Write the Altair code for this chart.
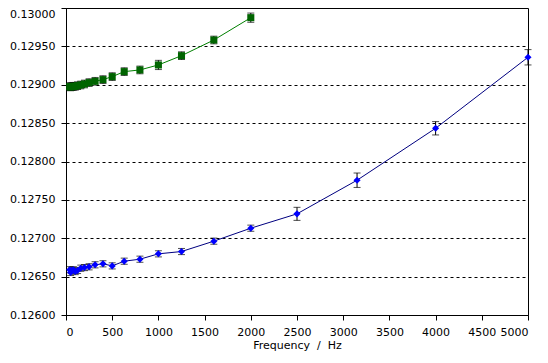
import altair as alt
import pandas as pd

# Frequencies (Hz)
green_freq = [40, 50, 63, 80, 100, 125, 160, 200, 250, 315, 400, 500, 630, 800, 1000, 1250, 1600, 2000]
green_val = [0.128975, 0.128972, 0.128975, 0.128980, 0.128980, 0.128988, 0.128997, 0.129010, 0.129028,
             0.129045, 0.129067, 0.129106, 0.129171, 0.129193, 0.129258, 0.129379, 0.129583, 0.129874]
green_err = [0.00005, 0.00005, 0.00005, 0.00005, 0.00005, 0.00005, 0.00005, 0.00005, 0.00005,
             0.00005, 0.00005, 0.00005, 0.00005, 0.00005, 0.00006, 0.00005, 0.00005, 0.00006]

blue_freq = [40, 50, 63, 80, 100, 125, 160, 200, 250, 315, 400, 500, 630, 800, 1000, 1250, 1600, 2000,
             2500, 3150, 4000, 5000]
blue_val = [0.126590, 0.126554, 0.126580, 0.126589, 0.126566, 0.126580, 0.126610, 0.126618, 0.126628,
            0.126654, 0.126667, 0.126640, 0.126701, 0.126727, 0.126797, 0.126827, 0.126962, 0.127131,
            0.127318, 0.127756, 0.128433, 0.129358]
blue_err = [0.00004, 0.00004, 0.00004, 0.00004, 0.00004, 0.00004, 0.00004, 0.00004, 0.00004,
            0.00004, 0.00004, 0.00004, 0.00004, 0.00004, 0.00004, 0.00004, 0.00004, 0.00004,
            0.000085, 0.000094, 0.000087, 0.00010]

x_ticks = list(range(0, 5001, 500))
y_ticks = [0.126, 0.1265, 0.127, 0.1275, 0.128, 0.1285, 0.129, 0.1295, 0.130]


def frame(f, v, e):
    return pd.DataFrame({"f": f, "v": v, "lo": [a - b for a, b in zip(v, e)], "hi": [a + b for a, b in zip(v, e)]})


xs = alt.Scale(domain=[0, 5000], nice=False, zero=False)
ys = alt.Scale(domain=[0.126, 0.130], nice=False, zero=False)
xax = alt.Axis(values=x_ticks, format="d", title="Frequency\u00a0\u00a0/\u00a0\u00a0Hz", grid=False,
               labelOverlap=False)
yax = alt.Axis(values=y_ticks, format=".5f", title=None, grid=True, labelOverlap=False,
               labelBaseline=alt.condition("datum.value >= 0.1299", alt.value("top"), alt.value("middle")))


def X(field):
    return alt.X(field, type="quantitative", scale=xs, axis=xax)


def Y(field):
    return alt.Y(field, type="quantitative", scale=ys, axis=yax)


def series(df, line_color, point_color, shape):
    base = alt.Chart(df)
    line = base.mark_line(color=line_color, strokeWidth=1).encode(x=X("f"), y=Y("v"))
    rule = base.mark_rule(color="black", strokeWidth=1).encode(x=X("f"), y=Y("lo"), y2="hi:Q")
    cap_lo = base.mark_tick(color="black", size=7, thickness=1, orient="horizontal").encode(x=X("f"), y=Y("lo"))
    cap_hi = base.mark_tick(color="black", size=7, thickness=1, orient="horizontal").encode(x=X("f"), y=Y("hi"))
    pts = base.mark_point(shape=shape, filled=True, color=point_color, opacity=1, size=50).encode(
        x=X("f"), y=Y("v"))
    return [line, rule, cap_lo, cap_hi, pts]


layers = series(frame(green_freq, green_val, green_err), "#008000", "#006400", "square") + \
    series(frame(blue_freq, blue_val, blue_err), "#000080", "#0000FF", "diamond")

chart = alt.layer(*layers).properties(
    width=462, height=307,
    autosize=alt.AutoSizeParams(type="none"),
    padding={"left": 58, "top": 0, "right": 12, "bottom": 40},
).configure_view(
    stroke="black", strokeWidth=1
).configure_axis(
    labelFont="DejaVu Sans", labelFontSize=11, labelColor="black",
    titleFont="DejaVu Sans", titleFontSize=11, titleColor="black", titleFontWeight="normal",
    domainColor="black", tickColor="black", tickSize=5,
    gridColor="black", gridDash=[3, 3], gridOpacity=1, gridWidth=1,
).configure_axisX(
    labelPadding=6, titlePadding=2
).configure_axisY(
    labelPadding=6
)

chart.save("out.html", embed_options={"renderer": "svg", "actions": False})
